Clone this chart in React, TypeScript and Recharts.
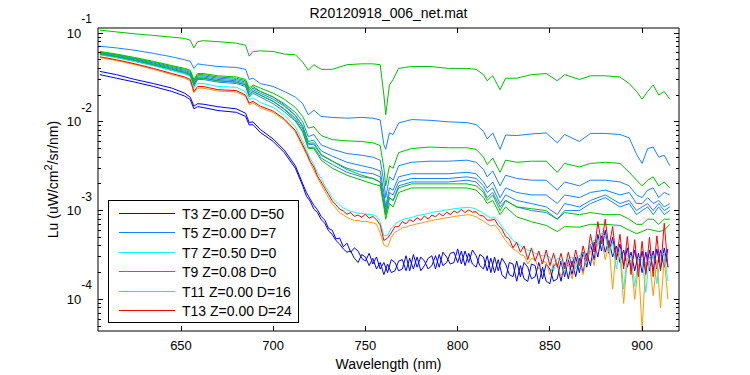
import { Legend, Line, LineChart, ReferenceArea, XAxis, YAxis, Label } from "recharts";

const FONT = '"Liberation Sans", Arial, Helvetica, sans-serif';
const PLOT_W = 581;
const PLOT_H = 303;

// wavelength sampling (nm) for the smoother casts
const WL_SMOOTH = [
  606, 615, 625, 635, 645, 652, 655, 657, 659, 662, 670, 680, 685, 687, 689, 693, 700, 706, 712, 716,
  719, 722, 726, 732, 740, 748, 754, 758, 760, 761, 763, 765, 768, 775, 785, 795, 805, 810, 814, 816,
  819, 823, 826, 832, 840, 848, 854, 858, 866, 872, 880, 888, 893, 897, 900, 903, 906, 909, 912, 915,
];

// wavelength sampling (nm) for the noisy casts
const WL_NOISY = [
  606, 615, 625, 635, 645, 652, 655, 657, 659, 662, 670, 680, 685, 687, 689, 693, 700, 706, 712, 716,
  718, 720, 722, 724, 726, 728, 730, 732, 734, 736, 738, 740, 742, 744, 746, 748, 750, 752, 754, 756,
  758, 760, 762, 764, 766, 768, 770, 772, 774, 776, 778, 780, 782, 784, 786, 788, 790, 792, 794, 796,
  798, 800, 802, 804, 806, 808, 810, 812, 814, 816, 818, 820, 822, 824, 826, 828, 830, 832, 834, 836,
  838, 840, 842, 844, 846, 848, 850, 852, 854, 856, 858, 860, 862, 864, 866, 868, 870, 872, 874, 876,
  878, 880, 882, 884, 886, 888, 890, 892, 894, 896, 898, 900, 902, 904, 906, 908, 910, 912, 914,
];

const X_TICKS = [650, 700, 750, 800, 850, 900];
const Y_TICKS = [
  5e-5, 6e-5, 7e-5, 8e-5, 9e-5,
  1e-4, 2e-4, 3e-4, 4e-4, 5e-4, 6e-4, 7e-4, 8e-4, 9e-4,
  1e-3, 2e-3, 3e-3, 4e-3, 5e-3, 6e-3, 7e-3, 8e-3, 9e-3,
  1e-2, 2e-2, 3e-2, 4e-2, 5e-2, 6e-2, 7e-2, 8e-2, 9e-2,
  1e-1,
];

// dark blue casts (T3)
const T3_A = [
  0.037, 0.034, 0.030, 0.027, 0.024, 0.021, 0.019, 0.015, 0.016, 0.0158, 0.0148, 0.014, 0.0125, 0.0098, 0.0100, 0.0082, 0.0064, 0.0048, 0.0032, 0.0020,
  16e-4, 13.5e-4, 11.5e-4, 10.2e-4, 8.6e-4, 7.8e-4, 6.3e-4, 6.0e-4, 4.8e-4, 4.9e-4,
  3.9e-4, 4.3e-4, 3.4e-4, 3.8e-4, 3.5e-4, 2.9e-4, 2.7e-4, 3.3e-4, 2.5e-4, 3.0e-4,
  2.2e-4, 2.6e-4, 2.0e-4, 2.8e-4, 2.6e-4, 2.1e-4, 2.2e-4, 3.1e-4, 2.1e-4, 3.2e-4,
  2.3e-4, 3.0e-4, 2.7e-4, 2.2e-4, 2.4e-4, 3.1e-4, 2.3e-4, 3.4e-4, 3.0e-4, 2.5e-4,
  2.6e-4, 3.7e-4, 2.5e-4, 3.5e-4, 2.6e-4, 3.6e-4, 3.1e-4, 2.4e-4, 2.2e-4, 3.1e-4,
  2.0e-4, 3.0e-4, 2.1e-4, 2.9e-4, 2.5e-4, 1.9e-4, 1.8e-4, 2.7e-4, 1.8e-4, 2.6e-4,
  2.3e-4, 1.7e-4, 1.8e-4, 2.6e-4, 1.7e-4, 2.5e-4, 2.2e-4, 1.6e-4, 1.7e-4, 2.7e-4,
  1.8e-4, 2.8e-4, 1.9e-4, 3.0e-4, 2.0e-4, 3.4e-4, 2.3e-4, 4.2e-4, 2.8e-4, 5.4e-4,
  3.5e-4, 6.0e-4, 3.3e-4, 5.0e-4, 2.8e-4, 4.2e-4, 2.4e-4, 3.8e-4, 2.2e-4, 3.6e-4,
  2.1e-4, 3.5e-4, 2.0e-4, 3.6e-4, 2.1e-4, 3.7e-4, 2.2e-4, 3.8e-4, 2.3e-4,
];
const T3_B = [
  0.034, 0.031, 0.028, 0.025, 0.022, 0.0195, 0.0178, 0.0140, 0.0148, 0.0145, 0.0134, 0.0128, 0.0115, 0.0092, 0.0093, 0.0076, 0.0060, 0.0045, 0.0030, 0.0019,
  14.5e-4, 12.8e-4, 10.4e-4, 9.5e-4, 7.9e-4, 7.2e-4, 5.9e-4, 5.4e-4, 4.6e-4, 4.2e-4,
  3.7e-4, 3.4e-4, 3.5e-4, 2.9e-4, 2.6e-4, 3.2e-4, 3.0e-4, 2.4e-4, 2.9e-4, 2.2e-4,
  2.6e-4, 1.9e-4, 2.5e-4, 2.0e-4, 2.1e-4, 2.7e-4, 2.8e-4, 2.1e-4, 2.9e-4, 2.2e-4,
  3.0e-4, 2.1e-4, 2.4e-4, 2.9e-4, 3.1e-4, 2.2e-4, 3.2e-4, 2.4e-4, 2.6e-4, 3.3e-4,
  3.4e-4, 2.6e-4, 3.5e-4, 2.4e-4, 3.3e-4, 2.5e-4, 2.3e-4, 3.2e-4, 3.0e-4, 2.1e-4,
  2.9e-4, 2.0e-4, 2.8e-4, 1.9e-4, 1.7e-4, 2.6e-4, 2.5e-4, 1.6e-4, 2.4e-4, 1.7e-4,
  1.6e-4, 2.5e-4, 2.4e-4, 1.5e-4, 2.3e-4, 1.6e-4, 1.5e-4, 2.4e-4, 2.5e-4, 1.6e-4,
  2.6e-4, 1.7e-4, 2.7e-4, 1.8e-4, 2.9e-4, 2.0e-4, 3.3e-4, 2.4e-4, 4.4e-4, 3.0e-4,
  5.2e-4, 3.4e-4, 4.6e-4, 3.0e-4, 4.0e-4, 2.6e-4, 3.6e-4, 2.3e-4, 3.4e-4, 2.1e-4,
  3.3e-4, 2.0e-4, 3.4e-4, 2.1e-4, 3.5e-4, 2.2e-4, 3.6e-4, 2.3e-4, 3.7e-4,
];

// blue casts (T5)
const T5_A = [
  0.071, 0.068, 0.064, 0.059, 0.054, 0.050, 0.048, 0.040, 0.045, 0.044, 0.042, 0.041, 0.039, 0.030, 0.031, 0.027, 0.025, 0.022, 0.019, 0.016,
  0.012, 0.0135, 0.0115, 0.0112, 0.0110, 0.0112, 0.0110, 0.0105, 0.0055, 0.0049, 0.0075, 0.0072, 0.0097, 0.0106, 0.0104, 0.0100, 0.0098, 0.0093, 0.0078, 0.0064,
  0.0075, 0.0049, 0.0071, 0.0070, 0.0073, 0.0075, 0.0058, 0.0072, 0.0060, 0.0074, 0.0074, 0.0072, 0.0066, 0.0043, 0.0034, 0.0050, 0.0052, 0.0040, 0.0042, 0.0032,
];
const T5_B = [
  0.060, 0.056, 0.051, 0.046, 0.041, 0.038, 0.036, 0.028, 0.033, 0.033, 0.031, 0.030, 0.028, 0.022, 0.024, 0.022, 0.019, 0.016, 0.0128, 0.0100,
  0.0068, 0.0072, 0.0055, 0.0049, 0.0044, 0.0042, 0.0040, 0.0037, 0.0021, 0.0014, 0.0024, 0.0022, 0.0032, 0.0035, 0.0036, 0.0036, 0.0037, 0.0035, 0.0029, 0.0024,
  0.0028, 0.0019, 0.0025, 0.0023, 0.0022, 0.0022, 0.0017, 0.0021, 0.0019, 0.0022, 0.0022, 0.0021, 0.0019, 0.0015, 0.0014, 0.0017, 0.0018, 0.0014, 0.0016, 0.0015,
];
const T5_C = [
  0.059, 0.055, 0.050, 0.045, 0.040, 0.037, 0.035, 0.027, 0.032, 0.032, 0.030, 0.029, 0.027, 0.021, 0.023, 0.021, 0.018, 0.015, 0.0118, 0.0090,
  0.0060, 0.0062, 0.0047, 0.0041, 0.0035, 0.0032, 0.0030, 0.0028, 0.0016, 0.0011, 0.0018, 0.0017, 0.0024, 0.0026, 0.0026, 0.0026, 0.0027, 0.0026, 0.0021, 0.0018,
  0.0021, 0.0014, 0.0018, 0.0016, 0.0015, 0.0015, 0.0012, 0.0015, 0.0014, 0.0016, 0.0017, 0.0015, 0.0016, 0.0012, 0.0012, 0.0014, 0.0012, 0.0013, 0.0011, 0.0012,
];
const T5_D = [
  0.058, 0.054, 0.049, 0.044, 0.039, 0.036, 0.034, 0.026, 0.031, 0.031, 0.029, 0.028, 0.026, 0.020, 0.022, 0.020, 0.017, 0.014, 0.0110, 0.0083,
  0.0055, 0.0056, 0.0042, 0.0036, 0.0030, 0.0027, 0.0026, 0.0024, 0.0014, 0.0010, 0.0016, 0.0015, 0.0021, 0.0023, 0.0023, 0.0023, 0.0024, 0.0023, 0.0019, 0.0016,
  0.0018, 0.0012, 0.0015, 0.0013, 0.0012, 0.0011, 0.0009, 0.0012, 0.0011, 0.0013, 0.0015, 0.0012, 0.0013, 0.0010, 0.0011, 0.0012, 0.0010, 0.0012, 0.0010, 0.0011,
];
const T5_E = [
  0.057, 0.053, 0.048, 0.043, 0.038, 0.035, 0.033, 0.025, 0.030, 0.030, 0.028, 0.027, 0.025, 0.019, 0.021, 0.019, 0.016, 0.013, 0.0102, 0.0077,
  0.0051, 0.0052, 0.0039, 0.0033, 0.0027, 0.0024, 0.0023, 0.0021, 0.0012, 0.0009, 0.0014, 0.0013, 0.0019, 0.0021, 0.0021, 0.0021, 0.0022, 0.0021, 0.0017, 0.0014,
  0.0016, 0.0011, 0.0013, 0.0011, 0.0010, 0.00095, 0.0008, 0.0010, 0.0010, 0.0012, 0.0014, 0.0011, 0.0012, 0.0009, 0.0010, 0.0011, 0.0009, 0.0011, 0.0009, 0.0010,
];

// cyan cast (T7)
const T7 = [
  0.057, 0.053, 0.048, 0.043, 0.038, 0.0345, 0.0325, 0.024, 0.027, 0.027, 0.025, 0.0245, 0.0218, 0.0178, 0.0186, 0.0165, 0.0145, 0.0118, 0.0088, 0.0060,
  48e-4, 39e-4, 33e-4, 26.5e-4, 23e-4, 19e-4, 16.5e-4, 14e-4, 12.6e-4, 11.5e-4,
  10.7e-4, 10.2e-4, 9.8e-4, 9.6e-4, 9.3e-4, 9.3e-4, 9.1e-4, 9.1e-4, 8.9e-4, 8.6e-4,
  7.4e-4, 5.2e-4, 5.3e-4, 6.3e-4, 7.0e-4, 7.5e-4, 7.9e-4, 8.1e-4, 8.3e-4, 8.5e-4,
  8.8e-4, 8.9e-4, 9.1e-4, 9.3e-4, 9.5e-4, 9.7e-4, 9.8e-4, 10.0e-4, 10.2e-4, 10.3e-4,
  10.5e-4, 10.6e-4, 10.7e-4, 10.8e-4, 10.9e-4, 10.7e-4, 10.4e-4, 9.8e-4, 9.3e-4, 8.7e-4,
  8.2e-4, 8.5e-4, 7.6e-4, 6.6e-4, 5.8e-4, 5.2e-4, 4.6e-4, 4.3e-4, 4.0e-4, 3.8e-4,
  3.6e-4, 3.5e-4, 3.3e-4, 3.2e-4, 3.1e-4, 3.1e-4, 3.0e-4, 2.1e-4, 2.9e-4, 2.8e-4,
  2.0e-4, 2.9e-4, 3.0e-4, 2.2e-4, 3.1e-4, 3.3e-4, 2.6e-4, 4.1e-4, 4.7e-4, 4.0e-4,
  5.6e-4, 5.2e-4, 3.4e-4, 4.4e-4, 2.2e-4, 3.7e-4, 1.3e-4, 3.2e-4, 3.1e-4, 1.4e-4,
  2.9e-4, 2.8e-4, 1.2e-4, 3.0e-4, 3.1e-4, 1.5e-4, 3.2e-4, 3.3e-4, 1.6e-4,
];

// green casts (T9)
const T9_A = [
  0.108, 0.103, 0.098, 0.094, 0.090, 0.087, 0.083, 0.068, 0.080, 0.082, 0.080, 0.077, 0.073, 0.055, 0.062, 0.063, 0.062, 0.058, 0.057, 0.047,
  0.038, 0.044, 0.039, 0.039, 0.044, 0.045, 0.045, 0.044, 0.020, 0.012, 0.026, 0.030, 0.040, 0.042, 0.042, 0.040, 0.040, 0.039, 0.034, 0.029,
  0.033, 0.023, 0.031, 0.031, 0.034, 0.035, 0.029, 0.034, 0.030, 0.033, 0.033, 0.032, 0.027, 0.022, 0.018, 0.022, 0.026, 0.020, 0.022, 0.018,
];
const T9_B = [
  0.062, 0.058, 0.053, 0.048, 0.043, 0.040, 0.038, 0.030, 0.035, 0.035, 0.033, 0.032, 0.030, 0.024, 0.026, 0.024, 0.021, 0.018, 0.0145, 0.0115,
  0.0085, 0.0088, 0.0070, 0.0063, 0.0061, 0.0060, 0.0058, 0.0054, 0.0030, 0.0019, 0.0032, 0.0030, 0.0045, 0.0050, 0.0052, 0.0051, 0.0051, 0.0049, 0.0040, 0.0033,
  0.0039, 0.0027, 0.0037, 0.0035, 0.0036, 0.0036, 0.0027, 0.0034, 0.0031, 0.0034, 0.0035, 0.0034, 0.0027, 0.0022, 0.0019, 0.0022, 0.0024, 0.0019, 0.0021, 0.0018,
];
const T9_C = [
  0.061, 0.057, 0.052, 0.047, 0.042, 0.039, 0.037, 0.029, 0.034, 0.034, 0.032, 0.031, 0.029, 0.023, 0.025, 0.022, 0.019, 0.0155, 0.0118, 0.0088,
  0.0057, 0.0058, 0.0043, 0.0036, 0.0029, 0.0025, 0.0023, 0.0021, 0.0012, 0.0009, 0.0014, 0.0013, 0.0018, 0.0020, 0.0020, 0.0020, 0.0020, 0.0019, 0.0016, 0.0013,
  0.0015, 0.0010, 0.0013, 0.0011, 0.00105, 0.0010, 0.0008, 0.00095, 0.0009, 0.00095, 0.0009, 0.0009, 0.0008, 0.0007, 0.0007, 0.0008, 0.0008, 0.0007, 0.0008, 0.0008,
];
const T9_D = [
  0.058, 0.054, 0.049, 0.044, 0.039, 0.036, 0.034, 0.026, 0.031, 0.031, 0.029, 0.028, 0.026, 0.020, 0.022, 0.020, 0.017, 0.0138, 0.0105, 0.0078,
  0.0050, 0.0050, 0.0037, 0.0030, 0.0025, 0.0022, 0.0020, 0.0019, 0.0011, 0.0008, 0.0012, 0.0011, 0.0016, 0.0018, 0.0018, 0.0018, 0.0018, 0.0017, 0.0014, 0.0012,
  0.0013, 0.0009, 0.0011, 0.00085, 0.00075, 0.00068, 0.00058, 0.00066, 0.00065, 0.0007, 0.0007, 0.00068, 0.0006, 0.00055, 0.00058, 0.00062, 0.0006, 0.00058, 0.0006, 0.0007,
];

// orange cast (T11)
const T11 = [
  0.053, 0.049, 0.044, 0.039, 0.034, 0.031, 0.029, 0.0212, 0.024, 0.024, 0.0222, 0.0217, 0.0193, 0.0155, 0.0163, 0.0144, 0.0127, 0.0104, 0.0077, 0.0052,
  43e-4, 35e-4, 28.5e-4, 23.5e-4, 19.5e-4, 16.5e-4, 14e-4, 11.8e-4, 10.6e-4, 9.5e-4,
  8.9e-4, 8.4e-4, 8.0e-4, 7.7e-4, 7.8e-4, 7.5e-4, 7.6e-4, 7.4e-4, 7.3e-4, 7.0e-4,
  5.6e-4, 4.1e-4, 3.9e-4, 5.0e-4, 5.7e-4, 6.0e-4, 6.4e-4, 6.5e-4, 6.8e-4, 6.9e-4,
  7.1e-4, 7.2e-4, 7.4e-4, 7.6e-4, 7.7e-4, 7.9e-4, 8.0e-4, 8.2e-4, 8.3e-4, 8.4e-4,
  8.6e-4, 8.7e-4, 8.8e-4, 8.9e-4, 9.0e-4, 8.8e-4, 8.5e-4, 8.0e-4, 7.6e-4, 7.1e-4,
  6.7e-4, 6.9e-4, 6.2e-4, 5.3e-4, 4.6e-4, 4.1e-4, 3.7e-4, 3.5e-4, 3.2e-4, 3.1e-4,
  2.5e-4, 2.9e-4, 2.8e-4, 2.2e-4, 2.7e-4, 2.6e-4, 1.9e-4, 2.5e-4, 2.5e-4, 1.8e-4,
  2.4e-4, 2.5e-4, 1.7e-4, 2.6e-4, 2.7e-4, 1.9e-4, 3.1e-4, 3.5e-4, 2.4e-4, 4.6e-4,
  4.8e-4, 2.8e-4, 4.2e-4, 1.3e-4, 3.6e-4, 3.2e-4, 0.9e-4, 2.9e-4, 2.7e-4, 1.0e-4,
  2.5e-4, 0.45e-4, 2.6e-4, 2.7e-4, 1.1e-4, 2.8e-4, 0.8e-4, 2.9e-4, 1.0e-4,
];

// red cast (T13)
const T13 = [
  0.054, 0.050, 0.045, 0.040, 0.035, 0.032, 0.030, 0.022, 0.025, 0.025, 0.023, 0.0225, 0.020, 0.0162, 0.0170, 0.0150, 0.0132, 0.0108, 0.0080, 0.0055,
  45e-4, 36e-4, 31e-4, 24.5e-4, 21e-4, 17.8e-4, 15.2e-4, 12.9e-4, 11.6e-4, 10.4e-4,
  9.9e-4, 9.1e-4, 9.5e-4, 8.6e-4, 8.9e-4, 8.4e-4, 9.1e-4, 8.2e-4, 8.6e-4, 7.9e-4,
  6.9e-4, 4.6e-4, 4.9e-4, 5.6e-4, 6.6e-4, 6.6e-4, 7.5e-4, 7.1e-4, 7.9e-4, 7.5e-4,
  8.3e-4, 7.8e-4, 8.7e-4, 8.0e-4, 8.9e-4, 8.5e-4, 9.3e-4, 8.7e-4, 9.6e-4, 9.0e-4,
  9.9e-4, 9.4e-4, 10.3e-4, 9.5e-4, 10.2e-4, 9.6e-4, 9.7e-4, 8.8e-4, 8.7e-4, 7.8e-4,
  7.8e-4, 8.0e-4, 6.8e-4, 6.2e-4, 5.1e-4, 4.8e-4, 3.8e-4, 4.4e-4, 3.4e-4, 4.0e-4,
  2.8e-4, 3.8e-4, 2.7e-4, 3.5e-4, 2.5e-4, 3.6e-4, 2.4e-4, 3.3e-4, 2.3e-4, 3.3e-4,
  2.2e-4, 3.4e-4, 2.3e-4, 3.6e-4, 2.4e-4, 4.0e-4, 2.7e-4, 5.4e-4, 3.4e-4, 7.5e-4,
  4.2e-4, 8.0e-4, 3.8e-4, 6.6e-4, 2.9e-4, 5.4e-4, 2.2e-4, 5.1e-4, 1.9e-4, 4.7e-4,
  1.8e-4, 4.5e-4, 1.9e-4, 5.0e-4, 1.8e-4, 5.2e-4, 2.1e-4, 7.2e-4, 2.3e-4,
];

const rows = (wl: number[], v: number[]) => wl.map((w, i) => ({ wl: w, lu: v[i] }));

const SERIES = [
  { id: "t3a", name: "T3 Z=0.00 D=50", color: "#0000ff", wl: WL_NOISY, v: T3_A, legend: true },
  { id: "t3b", name: "T3b", color: "#0000ff", wl: WL_NOISY, v: T3_B, legend: false },
  { id: "t5a", name: "T5 Z=0.00 D=7", color: "#1a82ff", wl: WL_SMOOTH, v: T5_A, legend: true },
  { id: "t5b", name: "T5b", color: "#1a82ff", wl: WL_SMOOTH, v: T5_B, legend: false },
  { id: "t5c", name: "T5c", color: "#1a82ff", wl: WL_SMOOTH, v: T5_C, legend: false },
  { id: "t5d", name: "T5d", color: "#1a82ff", wl: WL_SMOOTH, v: T5_D, legend: false },
  { id: "t5e", name: "T5e", color: "#1a82ff", wl: WL_SMOOTH, v: T5_E, legend: false },
  { id: "t7", name: "T7 Z=0.50 D=0", color: "#00ffff", wl: WL_NOISY, v: T7, legend: true },
  { id: "t9a", name: "T9 Z=0.08 D=0", color: "#00c000", wl: WL_SMOOTH, v: T9_A, legend: true },
  { id: "t9b", name: "T9b", color: "#00c000", wl: WL_SMOOTH, v: T9_B, legend: false },
  { id: "t9c", name: "T9c", color: "#00c000", wl: WL_SMOOTH, v: T9_C, legend: false },
  { id: "t9d", name: "T9d", color: "#00c000", wl: WL_SMOOTH, v: T9_D, legend: false },
  { id: "t11", name: "T11 Z=0.00 D=16", color: "#ff9900", wl: WL_NOISY, v: T11, legend: true },
  { id: "t13", name: "T13 Z=0.00 D=24", color: "#ff0000", wl: WL_NOISY, v: T13, legend: true },
];

const LEGEND_ORDER = SERIES.filter((s) => s.legend).map((s) => s.name);

function YTick(props: any) {
  const { x, y, payload } = props;
  const lg = Math.log10(payload.value);
  const exp = Math.round(lg);
  const major = Math.abs(lg - exp) < 1e-6;
  const len = major ? 5 : 3;
  return (
    <g>
      <line x1={x} x2={x + len} y1={y} y2={y} stroke="#000" shapeRendering="crispEdges" />
      <line x1={x + PLOT_W} x2={x + PLOT_W - len} y1={y} y2={y} stroke="#000" shapeRendering="crispEdges" />
      {major && (
        <text x={x - 6} y={y + 4.5} textAnchor="end" fontSize={13} fontFamily={FONT} fill="#000">
          10
          <tspan dy={-14.5} fontSize={12}>
            {String(exp)}
          </tspan>
        </text>
      )}
    </g>
  );
}

function XTick(props: any) {
  const { x, y, payload } = props;
  return (
    <g>
      <line x1={x} x2={x} y1={y} y2={y - 5} stroke="#000" shapeRendering="crispEdges" />
      <line x1={x} x2={x} y1={y - PLOT_H} y2={y - PLOT_H + 5} stroke="#000" shapeRendering="crispEdges" />
      <text x={x} y={y + 19} textAnchor="middle" fontSize={13} fontFamily={FONT} fill="#000">
        {payload.value}
      </text>
    </g>
  );
}

function LegendBox(props: any) {
  const items = (props.payload || [])
    .filter((it: any) => LEGEND_ORDER.includes(it.value))
    .sort((a: any, b: any) => LEGEND_ORDER.indexOf(a.value) - LEGEND_ORDER.indexOf(b.value));
  return (
    <svg width={191} height={123} style={{ display: "block" }}>
      <rect x={0.5} y={0.5} width={190} height={122} fill="#fff" stroke="#000" />
      {items.map((it: any, i: number) => {
        const cy = Math.round(13 + i * 19.4) + 0.5;
        return (
          <g key={it.value}>
            <line x1={11} x2={67} y1={cy} y2={cy} stroke={it.color} />
            <text x={74} y={cy + 5} fontSize={14} fontFamily={FONT} fill="#000">
              {it.value}
            </text>
          </g>
        );
      })}
    </svg>
  );
}

export default function App() {
  return (
    <div style={{ position: "absolute", left: 0, top: 0, width: 750, height: 375, background: "#fff" }}>
      <svg width={750} height={28} style={{ position: "absolute", left: 0, top: 0 }}>
        <text x={388.5} y={18} textAnchor="middle" fontSize={14} fontFamily={FONT} fill="#000">
          R20120918_006_net.mat
        </text>
      </svg>
      <LineChart width={750} height={375} margin={{ top: 28, right: 71, bottom: 14, left: 38 }}>
        <XAxis
          dataKey="wl"
          type="number"
          domain={[605, 920]}
          ticks={X_TICKS}
          interval={0}
          allowDataOverflow
          tickLine={false}
          tickSize={0}
          tickMargin={0}
          axisLine={false}
          height={30}
          tick={(p: any) => <XTick {...p} />}
        >
          <Label
            content={(p: any) => (
              <text
                x={p.viewBox.x + p.viewBox.width / 2}
                y={p.viewBox.y + 38}
                textAnchor="middle"
                fontSize={14}
                fontFamily={FONT}
                fill="#000"
              >
                Wavelength (nm)
              </text>
            )}
          />
        </XAxis>
        <YAxis
          type="number"
          scale="log"
          domain={[4.4e-5, 0.114]}
          ticks={Y_TICKS}
          interval={0}
          allowDataOverflow
          tickLine={false}
          tickSize={0}
          tickMargin={0}
          axisLine={false}
          width={60}
          tick={(p: any) => <YTick {...p} />}
        >
          <Label
            content={(p: any) => {
              const cx = p.viewBox.x + 20;
              const cy = p.viewBox.y + p.viewBox.height / 2;
              return (
                <text
                  x={cx}
                  y={cy}
                  transform={`rotate(-90 ${cx} ${cy})`}
                  textAnchor="middle"
                  fontSize={14}
                  fontFamily={FONT}
                  fill="#000"
                >
                  Lu (uW/cm<tspan dy={-6} fontSize={11}>2</tspan>
                  <tspan dy={6}>/sr/nm)</tspan>
                </text>
              );
            }}
          />
        </YAxis>
        <ReferenceArea
          x1={605}
          x2={920}
          y1={4.4e-5}
          y2={0.114}
          fill="none"
          stroke="#000"
          strokeWidth={1}
          ifOverflow="visible"
        />
        {SERIES.map((s) => (
          <Line
            key={s.id}
            data={rows(s.wl, s.v)}
            dataKey="lu"
            name={s.name}
            stroke={s.color}
            strokeWidth={1}
            dot={false}
            activeDot={false}
            type="linear"
            legendType={s.legend ? "line" : "none"}
            isAnimationActive={false}
          />
        ))}
        <Legend
          layout="vertical"
          align="center"
          verticalAlign="middle"
          content={(p: any) => <LegendBox {...p} />}
          wrapperStyle={{ left: 108, top: 200, width: 191, height: 123 }}
        />
      </LineChart>
    </div>
  );
}
